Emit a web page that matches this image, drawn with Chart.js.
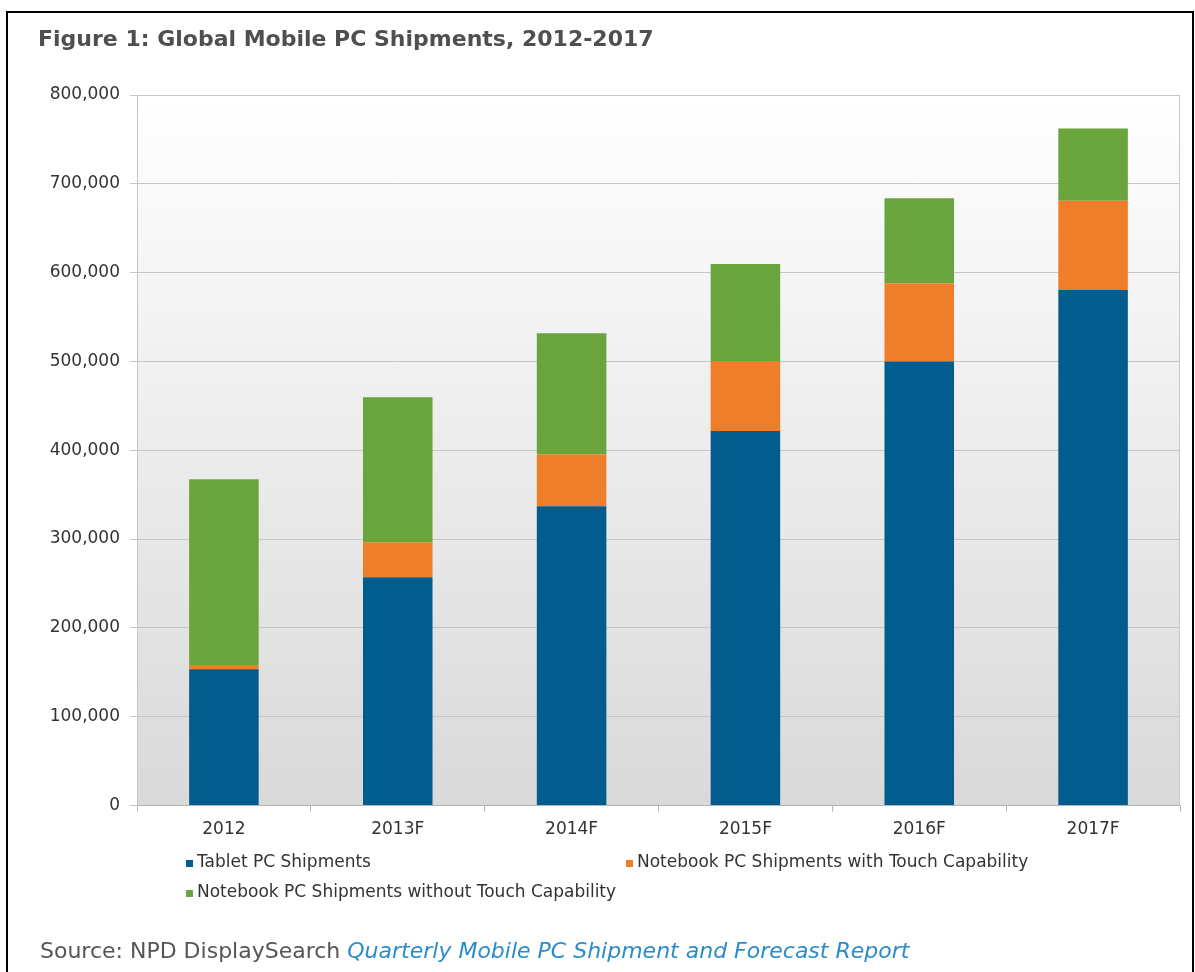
<!DOCTYPE html>
<html>
<head>
<meta charset="utf-8">
<title>Global Mobile PC Shipments, 2012-2017</title>
<script src="https://cdn.jsdelivr.net/npm/chart.js@4/dist/chart.umd.min.js"></script>
<style>
    html, body { margin: 0; padding: 0; background: #fff; }
    #shipmentsCanvas { display: block; }
</style>
</head>
<body>
<canvas id="shipmentsCanvas" width="1195" height="972"></canvas>
<script>
/* eslint-disable no-undef */

// Shipments in units, per year (F = forecast)
const years = ['2012', '2013F', '2014F', '2015F', '2016F', '2017F'];
const tabletShipments = [153400, 257000, 337000, 421700, 500000, 580300];
const notebookTouchShipments = [4000, 39400, 58600, 78800, 88000, 100500];
const notebookNoTouchShipments = [209900, 163200, 136000, 109200, 95700, 81500];

const seriesNames = [
    'Tablet PC Shipments',
    'Notebook PC Shipments with Touch Capability',
    'Notebook PC Shipments without Touch Capability'
];
const seriesColors = ['#025d8e', '#ef7e2a', '#69a43c'];

const titleText = 'Figure 1: Global Mobile PC Shipments, 2012-2017';
const sourceLabel = 'Source: NPD DisplaySearch ';
const sourceReport = 'Quarterly Mobile PC Shipment and Forecast Report';

const FONT = '"DejaVu Sans", Verdana, sans-serif';

// background of the plot area plus the title, legend, source line and frame
const decorPlugin = {
    id: 'decor',
    beforeDraw(chart) {
        const ctx = chart.ctx;
        const a = chart.chartArea;
        ctx.save();
        ctx.fillStyle = '#ffffff';
        ctx.fillRect(0, 0, chart.width, chart.height);
        let grad = ctx.createLinearGradient(0, a.top, 0, a.bottom);
        grad.addColorStop(0, '#ffffff');
        grad.addColorStop(1, '#d9d9d9');
        ctx.fillStyle = grad;
        ctx.fillRect(a.left, a.top, a.right - a.left, a.bottom - a.top);
        ctx.restore();
    },
    afterDraw(chart) {
        const ctx = chart.ctx;
        const a = chart.chartArea;
        ctx.save();

        // right edge of the plot box
        ctx.strokeStyle = '#c8c8c8';
        ctx.lineWidth = 1;
        ctx.beginPath();
        ctx.moveTo(a.right - 0.5, a.top);
        ctx.lineTo(a.right - 0.5, a.bottom);
        ctx.stroke();

        // title
        ctx.textBaseline = 'middle';
        ctx.textAlign = 'left';
        ctx.fillStyle = '#4f4f4f';
        ctx.font = 'bold 22px ' + FONT;
        ctx.fillText(titleText, 38, 40);

        // legend, two per row
        const legendSpots = [[186, 863], [626, 863], [186, 893]];
        ctx.font = '17px ' + FONT;
        chart.data.datasets.forEach(function (ds, i) {
            let [lx, ly] = legendSpots[i];
            ctx.fillStyle = ds.backgroundColor;
            ctx.fillRect(lx, ly - 3, 7, 7);
            ctx.fillStyle = '#333333';
            ctx.fillText(ds.label, lx + 11, ly);
        });

        // source line
        ctx.font = '22px ' + FONT;
        ctx.fillStyle = '#555555';
        ctx.fillText(sourceLabel, 40, 952);
        let w = ctx.measureText(sourceLabel).width;
        ctx.font = 'italic 22px ' + FONT;
        ctx.fillStyle = '#2b8ccb';
        ctx.fillText(sourceReport, 40 + w, 952);

        // outer frame
        ctx.strokeStyle = '#000000';
        ctx.lineWidth = 2;
        ctx.strokeRect(7, 12, 1186, 980);
        ctx.restore();
    }
};

let ctx = document.getElementById('shipmentsCanvas').getContext('2d');
let shipmentsChart = new Chart(ctx, {
    type: 'bar',
    data: {
        labels: years,
        datasets: [{
            label: seriesNames[0],
            data: tabletShipments,
            backgroundColor: seriesColors[0]
        }, {
            label: seriesNames[1],
            data: notebookTouchShipments,
            backgroundColor: seriesColors[1]
        }, {
            label: seriesNames[2],
            data: notebookNoTouchShipments,
            backgroundColor: seriesColors[2]
        }]
    },
    options: {
        responsive: false,
        animation: false,
        layout: {
            padding: { top: 95, right: 15, left: 0, bottom: 0 }
        },
        datasets: {
            bar: {
                categoryPercentage: 1.0,
                barPercentage: 0.4,
                borderWidth: 0
            }
        },
        plugins: {
            legend: { display: false },
            title: { display: false },
            tooltip: { enabled: false }
        },
        scales: {
            x: {
                stacked: true,
                afterFit: function (scale) { scale.height = 166.5; },
                grid: {
                    drawOnChartArea: false,
                    drawTicks: true,
                    tickLength: 6,
                    offset: true,
                    color: '#b4b4b4'
                },
                border: { color: '#b4b4b4' },
                ticks: {
                    padding: 8,
                    color: '#333333',
                    font: { family: FONT, size: 17 }
                }
            },
            y: {
                stacked: true,
                min: 0,
                max: 800000,
                afterFit: function (scale) { scale.width = 137; },
                grid: {
                    color: '#c6c6c6',
                    tickLength: 7
                },
                border: { color: '#c6c6c6' },
                ticks: {
                    stepSize: 100000,
                    padding: 10,
                    color: '#333333',
                    font: { family: FONT, size: 17 },
                    callback: function (v) { return v.toLocaleString('en-US'); }
                }
            }
        }
    },
    plugins: [decorPlugin]
});
</script>
</body>
</html>
